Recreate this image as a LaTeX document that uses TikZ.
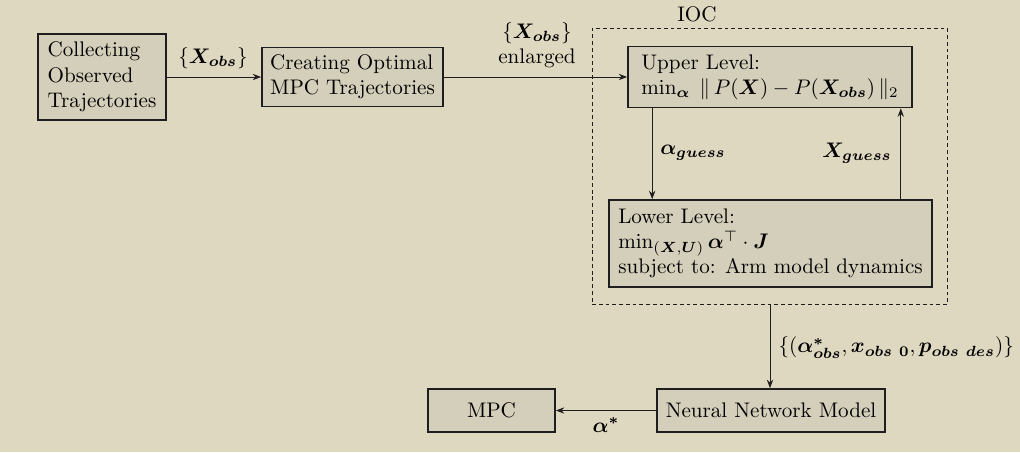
\documentclass[tikz,border=0pt]{standalone}
\usepackage{bm}
\usetikzlibrary{arrows.meta}
\definecolor{bgc}{RGB}{223,216,192}
\definecolor{boxc}{RGB}{212,207,186}
\definecolor{linec}{RGB}{30,30,30}
\begin{document}
\begin{tikzpicture}[x=0.474pt,y=-0.474pt,
  blk/.style={draw=linec,line width=0.8pt,fill=boxc,align=left,inner sep=3pt},
  conn/.style={draw=linec,line width=0.45pt,-{Stealth[length=4pt,width=3pt]}},
  lbl/.style={inner sep=1pt}]
\useasboundingbox[fill=bgc] (0,0) rectangle (1020,452);
% IOC container
\node[draw=linec,dash pattern=on 1.8pt off 1.4pt,line width=0.45pt,minimum width=168.7pt,minimum height=130.4pt] (ioc) at (770,166.5) {};
\node[lbl] (ioclbl) at (697,14) {IOC};
% boxes
\node[blk,minimum width=60.7pt,minimum height=40.8pt] (collect) at (102,77) {Collecting\\Observed\\Trajectories};
\node[blk,minimum width=85.8pt,minimum height=28pt] (create) at (352.5,77) {Creating Optimal\\MPC Trajectories};
\node[blk,minimum width=134.6pt,minimum height=28.9pt] (upper) at (770,77) {Upper Level:\\$\min_{\bm{\alpha}}\;\|\,P(\bm{X})-P(\bm{X_{obs}})\,\|_2$};
\node[blk,minimum width=153.1pt,minimum height=41.2pt] (lower) at (770.5,243.5) {Lower Level:\\$\min_{(\bm{X},\bm{U})}\bm{\alpha}^{\top}\cdot\bm{J}$\\subject to: Arm model dynamics};
\node[blk,align=center,minimum width=108.1pt,minimum height=20.4pt] (nn) at (771,410.5) {Neural Network Model};
\node[blk,align=center,minimum width=60.2pt,minimum height=20.4pt] (mpc) at (491.5,410.5) {MPC};
% connectors
\draw[conn] (collect.east |- create.west) -- (create.west);
\node[lbl] (l1) at (213,58) {$\{\bm{X_{obs}}\}$};
\draw[conn] (create.east) -- (upper.west);
\node[lbl,align=center] (l2) at (537,45) {$\{\bm{X_{obs}}\}$\\enlarged};
\coordinate (ag) at ([xshift=11.85pt]upper.south west);
\draw[conn] (ag) -- (ag |- lower.north);
\node[lbl] (l3) at (693,153) {$\bm{\alpha_{guess}}$};
\coordinate (xg) at ([xshift=-15.2pt]lower.north east);
\draw[conn] (xg) -- (xg |- upper.south);
\node[lbl] (l4) at (857,153) {$\bm{X_{guess}}$};
\draw[conn] (ioc.south) -- (ioc.south |- nn.north);
\node[lbl,anchor=west] (l5) at (776,348) {$\{(\bm{\alpha^*_{obs}},\bm{x_{obs\ 0}},\bm{p_{obs\ des}})\}$};
\draw[conn] (nn.west) -- (mpc.east);
\node[lbl] (l6) at (606,425) {$\bm{\alpha^*}$};
\end{tikzpicture}
\end{document}
